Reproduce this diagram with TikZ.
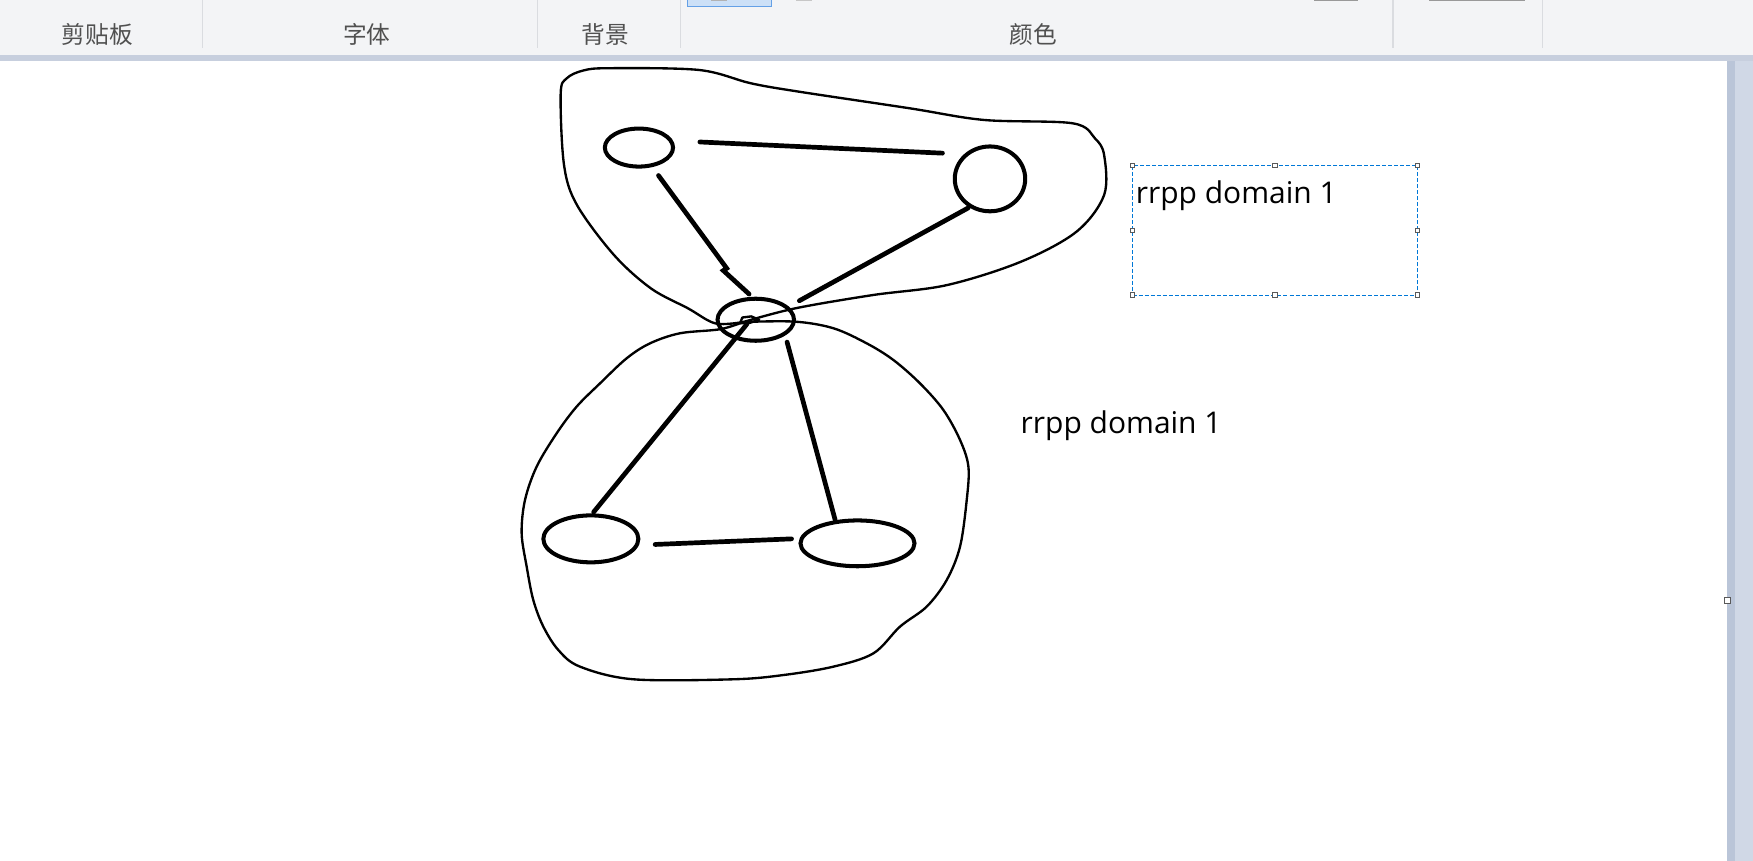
\documentclass[tikz,border=0pt]{standalone}
\usepackage{fontspec}
\setmainfont{Open Sans}
\newfontfamily\cjk{Noto Sans CJK SC}
\usetikzlibrary{shapes.geometric}
\definecolor{barbg}{RGB}{243,244,246}
\definecolor{barline}{RGB}{218,220,224}
\definecolor{bartext}{RGB}{80,80,80}
\definecolor{bandblue}{RGB}{199,207,222}
\definecolor{stripblue}{RGB}{208,216,230}
\definecolor{stripdark}{RGB}{186,197,216}
\definecolor{selblue}{RGB}{0,120,215}
\definecolor{btnblue}{RGB}{204,224,247}
\definecolor{btnedge}{RGB}{100,160,230}

\begin{document}
\begin{tikzpicture}[x=0.5pt, y=-0.5pt,
    every node/.style={inner sep=0pt, outer sep=0pt},
    host/.style={ellipse, draw, line width=1.8pt},
    link/.style={line width=2.1pt, line cap=round},
    ring/.style={line width=1.05pt, line join=round},
    tab/.style={font=\cjk\fontsize{10.6}{12}\selectfont, text=bartext},
    domtext/.style={font=\fontsize{13.4}{16}\selectfont, anchor=base west},
    handle/.style={draw=black!65, fill=white, line width=0.4pt, minimum size=2pt}
]
\useasboundingbox (0,0) rectangle (1568,770);

% window: ribbon, band, canvas, scroll strip
\fill[barbg] (0,0) rectangle (1568,49);
\fill[bandblue] (0,49) rectangle (1568,54.5);
\fill[stripblue] (1545,54.5) rectangle (1568,770);
\fill[stripdark] (1545,54.5) rectangle (1552,770);
\fill[white] (0,54.5) rectangle (1545,770);
\foreach \x in {181,481,609,1246,1380}
    \draw[barline, line width=0.5pt] (\x,0) -- (\x,42.7);

% cut-off ribbon bits
\draw[btnedge, fill=btnblue, line width=0.5pt] (615,-2) rectangle (690,5.7);
\fill[black!30] (636,0) rectangle (650,1.2);
\fill[black!22] (712,0) rectangle (726,1);
\fill[black!40] (1175,0) rectangle (1215,1.2);
\fill[black!40] (1278,0) rectangle (1364,1.2);

% ribbon group names
\node[tab] (clip) at (87,30.5) {剪贴板};
\node[tab] (font) at (328,30.5) {字体};
\node[tab] (back) at (541.5,30.5) {背景};
\node[tab] (colr) at (924,30.5) {颜色};

% canvas resize handle
\node[handle, minimum size=2.5pt] (grip) at (1545,537) {};

% ring outlines
\draw[ring] plot[smooth, tension=0.55] coordinates {(665,288) (640,289.3) (615.4,275.8) (582.3,258)
    (549.2,228.1) (516.1,183.4) (504.5,147.6) (501.5,84) (507,70) (522,63) (545,61) (625.3,62.6)
    (671.6,74.5) (714.6,82) (813.9,96.9) (880.1,107.3) (959.5,110.3) (979.4,123.8) (987.6,138.7)
    (987.6,174.4) (962.8,207.3) (913.2,234.1) (847,255) (780.8,263.9) (711.3,275.8) (665,288)};
\draw[ring] plot[smooth, tension=0.55] coordinates {(665,288) (711.1,287.7) (745.4,293.6)
    (775.2,307.1) (799.1,322) (822.9,342.9) (843.8,366.7) (858.7,393.5) (866.2,417.4) (864.7,447.2)
    (858.7,489) (846.8,518.8) (828.9,542.6) (805,560.5) (781.2,584.4) (745.4,596.3) (700.7,603.8)
    (656,607.6) (566.5,607.6) (518.8,596.3) (499.4,581.4) (486,560.5) (477,536.7) (471.1,506.9)
    (466.6,477) (469.6,447.2) (480,417.4) (497.9,387.6) (515.8,363.7) (536.7,342.9) (560.5,320.5)
    (581.4,307.1) (608.2,298.1) (644,294.5) (665,288)};
\draw[ring] (662,289) -- (664,284) -- (672,283) -- (679,286) -- (670,289) -- cycle;

% hosts
\node[host, minimum width=30.5pt, minimum height=17pt] (tl) at (571.5,132) {};
\node[host, minimum width=31.5pt, minimum height=29pt] (tr) at (885.5,160) {};
\node[host, minimum width=34.2pt, minimum height=18.8pt] (hub) at (676,286) {};
\node[host, minimum width=42.5pt, minimum height=21pt] (bl) at (528.5,482) {};
\node[host, minimum width=51pt, minimum height=20.5pt] (br) at (767,486) {};

% links
\draw[link] ([shift={(54.5,-5)}]tl.center) -- ([shift={(-42.5,-23)}]tr.center);
\draw[link] ([shift={(17.5,25)}]tl.center) -- ++(61,83) -- ++(-3,2) -- ([shift={(-6,-23)}]hub.center);
\draw[link] ([shift={(-19.5,26)}]tr.center) -- ([shift={(39,-17)}]hub.center);
\draw[link] ([shift={(-8,4)}]hub.center) -- ([shift={(2.5,-24)}]bl.center);
\draw[link] ([shift={(28,20)}]hub.center) -- ([shift={(-20,-21)}]br.center);
\draw[link] ([shift={(57.5,5)}]bl.center) -- ([shift={(-59,-4)}]br.center);

% selected text box
\node[draw=selblue, dash pattern=on 1.8pt off 0.9pt, line width=0.5pt,
      minimum width=127.5pt, minimum height=58pt] (sel) at (1140.5,206) {};
\foreach \a [count=\i] in {north west,north,north east,east,south east,south,south west,west}
    \node[handle] (h\i) at (sel.\a) {};
\node[domtext] (dom1) at (1016,182) {rrpp domain 1};
\node[domtext] (dom2) at (913,388) {rrpp domain 1};
\end{tikzpicture}
\end{document}
